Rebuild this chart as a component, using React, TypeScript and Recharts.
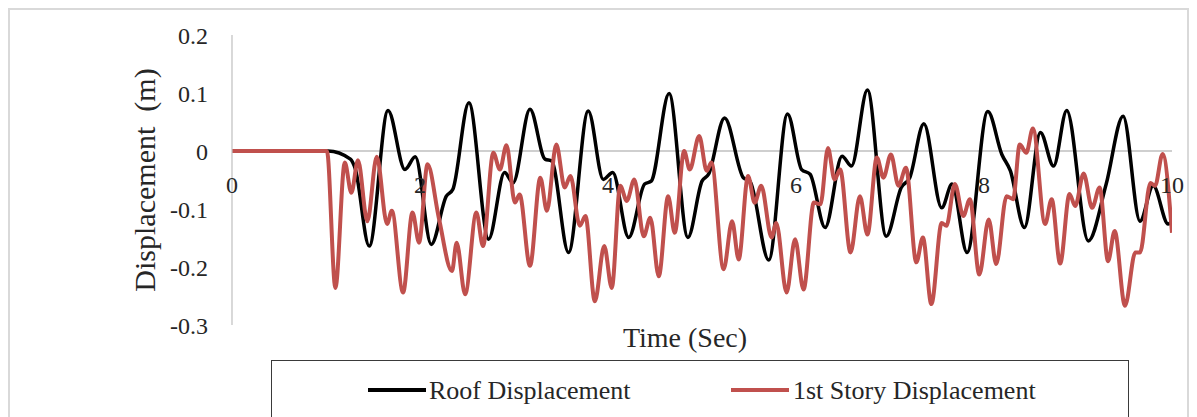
import React from "react";
import { LineChart, Line, XAxis, YAxis, ReferenceLine } from "recharts";

// ---- Data ----
const roofTime = [
  0, 1.02, 1.26, 1.31, 1.46, 1.66, 1.84, 1.95, 2.12, 2.28, 2.35, 2.52, 2.73, 2.9, 2.99, 3.17, 3.33, 3.4, 3.58, 3.79,
  3.95, 4.05, 4.22, 4.39, 4.46, 4.65, 4.85, 5.0, 5.07, 5.24, 5.44, 5.51, 5.71, 5.91, 6.06, 6.15, 6.31, 6.49, 6.59,
  6.76, 6.96, 7.12, 7.21, 7.36, 7.55, 7.66, 7.82, 8.04, 8.19, 8.28, 8.43, 8.6, 8.74, 8.88, 9.11, 9.3, 9.48, 9.66,
  9.8, 9.96, 10,
];
const roofDisp = [
  0, 0, -0.014, -0.03, -0.164, 0.07, -0.032, -0.01, -0.161, -0.078, -0.066, 0.083, -0.152, -0.037, -0.055, 0.072,
  -0.014, -0.017, -0.175, 0.069, -0.049, -0.037, -0.149, -0.057, -0.052, 0.099, -0.149, -0.052, -0.04, 0.057,
  -0.046, -0.052, -0.188, 0.064, -0.032, -0.04, -0.132, -0.009, -0.026, 0.105, -0.147, -0.063, -0.046, 0.047,
  -0.098, -0.057, -0.175, 0.068, -0.006, -0.034, -0.132, 0.032, -0.026, 0.07, -0.155, -0.057, 0.06, -0.121, -0.06,
  -0.126, -0.12,
];
const storyTime = [
  0, 1.01, 1.1, 1.2, 1.27, 1.34, 1.44, 1.54, 1.65, 1.7, 1.82, 1.92, 1.99, 2.08, 2.2, 2.34, 2.39, 2.48, 2.6, 2.67,
  2.78, 2.85, 2.92, 3.01, 3.06, 3.17, 3.28, 3.35, 3.45, 3.54, 3.6, 3.7, 3.76, 3.86, 3.96, 4.04, 4.13, 4.2, 4.28,
  4.38, 4.45, 4.54, 4.64, 4.71, 4.81, 4.87, 4.97, 5.05, 5.1, 5.23, 5.32, 5.39, 5.49, 5.56, 5.63, 5.74, 5.79, 5.9,
  5.99, 6.08, 6.19, 6.26, 6.34, 6.41, 6.47, 6.58, 6.68, 6.76, 6.86, 6.93, 7.01, 7.09, 7.17, 7.28, 7.35, 7.44, 7.55,
  7.6, 7.69, 7.78, 7.85, 7.95, 8.05, 8.13, 8.24, 8.31, 8.38, 8.45, 8.52, 8.65, 8.72, 8.81, 8.91, 8.97, 9.06, 9.15,
  9.23, 9.32, 9.39, 9.5, 9.61, 9.66, 9.77, 9.82, 9.9, 10,
];
const storyDisp = [
  0, 0, -0.236, -0.02, -0.072, -0.016, -0.121, -0.01, -0.126, -0.103, -0.244, -0.106, -0.158, -0.023, -0.115,
  -0.207, -0.158, -0.247, -0.106, -0.164, -0.003, -0.032, 0.01, -0.089, -0.075, -0.198, -0.046, -0.103, 0.011,
  -0.063, -0.043, -0.129, -0.112, -0.259, -0.164, -0.236, -0.06, -0.086, -0.049, -0.147, -0.115, -0.216, -0.078,
  -0.141, 0.0, -0.032, 0.026, -0.034, -0.02, -0.204, -0.121, -0.187, -0.043, -0.089, -0.06, -0.149, -0.124, -0.244,
  -0.152, -0.239, -0.089, -0.092, 0.005, -0.049, -0.032, -0.175, -0.078, -0.144, -0.011, -0.046, -0.006, -0.06,
  -0.029, -0.192, -0.149, -0.264, -0.124, -0.129, -0.057, -0.112, -0.083, -0.213, -0.118, -0.195, -0.078, -0.083,
  0.011, -0.003, 0.039, -0.126, -0.083, -0.194, -0.074, -0.095, -0.039, -0.098, -0.063, -0.19, -0.138, -0.267,
  -0.175, -0.175, -0.055, -0.06, -0.005, -0.141,
];
const xTicks = [0, 2, 4, 6, 8, 10];
const yTicks = [-0.3, -0.2, -0.1, 0, 0.1, 0.2];
const seriesNames = ["Roof Displacement", "1st Story Displacement"];
const seriesColors = ["#000000", "#c0504d"];

const roofData = roofTime.map((t, i) => ({ t, v: roofDisp[i] }));
const storyData = storyTime.map((t, i) => ({ t, v: storyDisp[i] }));

// ---- Layout ----
const FONT = "'Liberation Serif', 'Times New Roman', serif";
const CHART_W = 1177;
const CHART_H = 350;
const MARGIN = { top: 25, right: 15, bottom: 25, left: 162 };
const Y_AXIS_W = 60;
const X_AXIS_H = 10;
const Y_MIN = -0.3;
const Y_MAX = 0.2;
const PLOT_TOP = MARGIN.top;
const PLOT_H = CHART_H - MARGIN.top - MARGIN.bottom - X_AXIS_H;
const ZERO_Y = PLOT_TOP + (PLOT_H * (Y_MAX - 0)) / (Y_MAX - Y_MIN);

const XTick = (props: any) => {
  const { x, payload } = props;
  return (
    <text x={x} y={ZERO_Y + 42} textAnchor="middle" fontSize={24} fontFamily={FONT} fill="#262626">
      {payload.value}
    </text>
  );
};

const yFmt = (v: number) => (Math.abs(v) < 1e-9 ? "0" : v.toFixed(1));

const YTitle = () => (
  <text
    x={145}
    y={170}
    transform="rotate(-90 145 170)"
    textAnchor="middle"
    fontSize={30}
    fontFamily={FONT}
    fill="#262626"
    style={{ whiteSpace: "pre" }}
  >
    {"Displacement  (m)"}
  </text>
);

const XTitle = () => (
  <text x={675} y={337} textAnchor="middle" fontSize={28} fontFamily={FONT} fill="#262626">
    Time (Sec)
  </text>
);

const legendLayout = [
  { lineX: 97, textX: 158 },
  { lineX: 460, textX: 522 },
];

export default function App() {
  return (
    <div
      style={{
        position: "relative",
        width: 1181,
        height: 409,
        boxSizing: "border-box",
        border: "2px solid #d9d9d9",
        borderBottom: "none",
        overflow: "hidden",
        background: "#fff",
      }}
    >
      <LineChart width={CHART_W} height={CHART_H} margin={MARGIN}>
        <XAxis
          type="number"
          dataKey="t"
          domain={[0, 10]}
          ticks={xTicks}
          axisLine={false}
          tickLine={false}
          height={X_AXIS_H}
          tick={<XTick />}
          label={XTitle}
          allowDataOverflow
        />
        <YAxis
          type="number"
          domain={[Y_MIN, Y_MAX]}
          ticks={yTicks}
          width={Y_AXIS_W}
          tickFormatter={yFmt}
          axisLine={{ stroke: "#bfbfbf", strokeWidth: 1.2 }}
          tickLine={false}
          tickSize={0}
          tickMargin={24}
          tick={{ fontSize: 24, fontFamily: FONT, fill: "#262626" }}
          label={YTitle}
          allowDataOverflow
        />
        <ReferenceLine y={0} stroke="#bfbfbf" strokeWidth={1.5} />
        <Line
          data={roofData}
          dataKey="v"
          name={seriesNames[0]}
          type="monotone"
          stroke={seriesColors[0]}
          strokeWidth={3.5}
          dot={false}
          activeDot={false}
          isAnimationActive={false}
        />
        <Line
          data={storyData}
          dataKey="v"
          name={seriesNames[1]}
          type="monotone"
          stroke={seriesColors[1]}
          strokeWidth={4}
          dot={false}
          activeDot={false}
          isAnimationActive={false}
        />
      </LineChart>
      <div
        style={{
          position: "absolute",
          left: 261,
          top: 350,
          width: 858,
          height: 80,
          boxSizing: "border-box",
          border: "1.5px solid #3a3a3a",
          background: "#fff",
        }}
      >
        <svg width={858} height={80} style={{ position: "absolute", left: -1.5, top: -1.5 }}>
          {seriesNames.map((name, i) => (
            <g key={name}>
              <line
                x1={legendLayout[i].lineX}
                x2={legendLayout[i].lineX + 58}
                y1={30}
                y2={30}
                stroke={seriesColors[i]}
                strokeWidth={4}
              />
              <text x={legendLayout[i].textX} y={39} fontSize={26} fontFamily={FONT} fill="#262626">
                {name}
              </text>
            </g>
          ))}
        </svg>
      </div>
    </div>
  );
}
